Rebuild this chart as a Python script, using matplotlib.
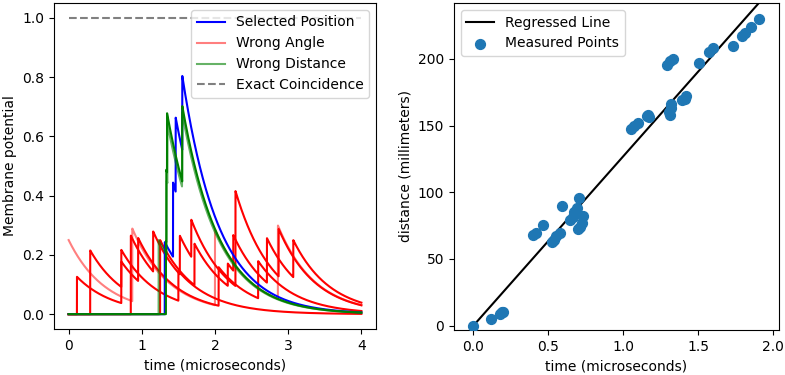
import numpy as np
import matplotlib
matplotlib.use("Agg")
from matplotlib import pyplot as plt

# membrane traces: (spike time, jump height)
tau = 0.5
t_end = 4.0
selected = [(1.314, 0.243), (1.427, 0.25), (1.463, 0.25), (1.553, 0.25)]
wrong_angle_light = [(0.0, 0.25), (0.87, 0.245), (2.0, 0.255), (2.86, 0.248)]
wrong_angle = [
    [(0.114, 0.126), (0.72, 0.14), (0.95, 0.145), (2.05, 0.13), (2.59, 0.125)],
    [(0.295, 0.215), (0.72, 0.125), (1.5, 0.1)],
    [(0.85, 0.265), (1.155, 0.135), (1.52, 0.13), (1.676, 0.125), (2.28, 0.32), (2.87, 0.16)],
    [(1.25, 0.25), (1.72, 0.14), (2.175, 0.075), (2.25, 0.12), (2.71, 0.15), (3.07, 0.125)],
]
wrong_dist_light = [(1.23, 0.25), (1.34, 0.25), (1.35, 0.2), (1.55, 0.25)]
wrong_dist = [(1.33, 0.245), (1.335, 0.245), (1.345, 0.2), (1.553, 0.255)]

# measured points for the regression panel
meas_t = [0.0, 0.118, 0.175, 0.19, 0.2, 0.4, 0.418, 0.467, 0.522, 0.538, 0.551,
          0.578, 0.589, 0.644, 0.662, 0.671, 0.689, 0.707, 0.7, 0.711, 0.722, 0.729,
          1.051, 1.071, 1.1, 1.156, 1.167, 1.173, 1.293, 1.311, 1.329, 1.307, 1.318,
          1.322, 1.31, 1.393, 1.409, 1.42, 1.503, 1.573, 1.596, 1.733, 1.796, 1.811,
          1.856, 1.907]
meas_d = [0.0, 4.8, 9.0, 10.0, 10.5, 68.0, 69.8, 75.5, 63.0, 64.5, 67.5,
          69.5, 89.8, 79.3, 81.8, 85.0, 88.5, 95.5, 72.3, 74.3, 77.0, 82.0,
          147.3, 149.8, 152.3, 157.3, 158.0, 156.5, 195.5, 198.8, 200.0, 160.0, 163.0,
          166.0, 158.0, 169.3, 170.0, 172.0, 197.3, 205.5, 208.0, 209.8, 217.3, 219.3,
          224.3, 229.8]
slope = 127.0
intercept = 0.0

plt.rcParams['font.size'] = 10


def trace(spikes, t):
    v = np.zeros_like(t)
    for ts, w in spikes:
        on = t >= ts
        v[on] += w * np.exp(-(t[on] - ts) / tau)
    return v


t = np.linspace(0, t_end, 4001)

fig = plt.figure(figsize=(7.85, 3.75), dpi=100)
ax1 = fig.add_axes([0.0688, 0.1227, 0.4102, 0.8693])
ax2 = fig.add_axes([0.5783, 0.12, 0.4141, 0.872])

lw = 1.5
h_sel, = ax1.plot(t, trace(selected, t), color='blue', lw=lw, zorder=3)
h_ang, = ax1.plot(t, trace(wrong_angle_light, t), color='red', alpha=0.5, lw=lw)
for sp in wrong_angle:
    ax1.plot(t, trace(sp, t), color='red', lw=lw)
h_dis, = ax1.plot(t, trace(wrong_dist_light, t), color='green', alpha=0.6, lw=lw, zorder=3)
ax1.plot(t, trace(wrong_dist, t), color='green', lw=lw, zorder=3)
h_exa, = ax1.plot([0, t_end], [1, 1], '--', color='gray', lw=lw)
ax1.legend([h_sel, h_ang, h_dis, h_exa],
           ['Selected Position', 'Wrong Angle', 'Wrong Distance', 'Exact Coincidence'],
           loc='upper right')
ax1.set_xticks([0, 1, 2, 3, 4])
ax1.set_xlabel('time (microseconds)')
ax1.set_ylabel('Membrane potential')

tl = np.array([0.0, max(meas_t)])
ax2.plot(tl, slope * tl + intercept, color='black', lw=lw, label='Regressed Line')
ax2.scatter(meas_t, meas_d, s=50, color='#1f77b4', label='Measured Points', zorder=3)
ax2.set_xlim(-0.13, 2.04)
ax2.set_ylim(-3.3, 242)
ax2.set_xticks([0.0, 0.5, 1.0, 1.5, 2.0])
ax2.set_xlabel('time (microseconds)')
ax2.set_ylabel('distance (millimeters)')
ax2.legend(loc='upper left')

fig.savefig('out.png', dpi=100)
